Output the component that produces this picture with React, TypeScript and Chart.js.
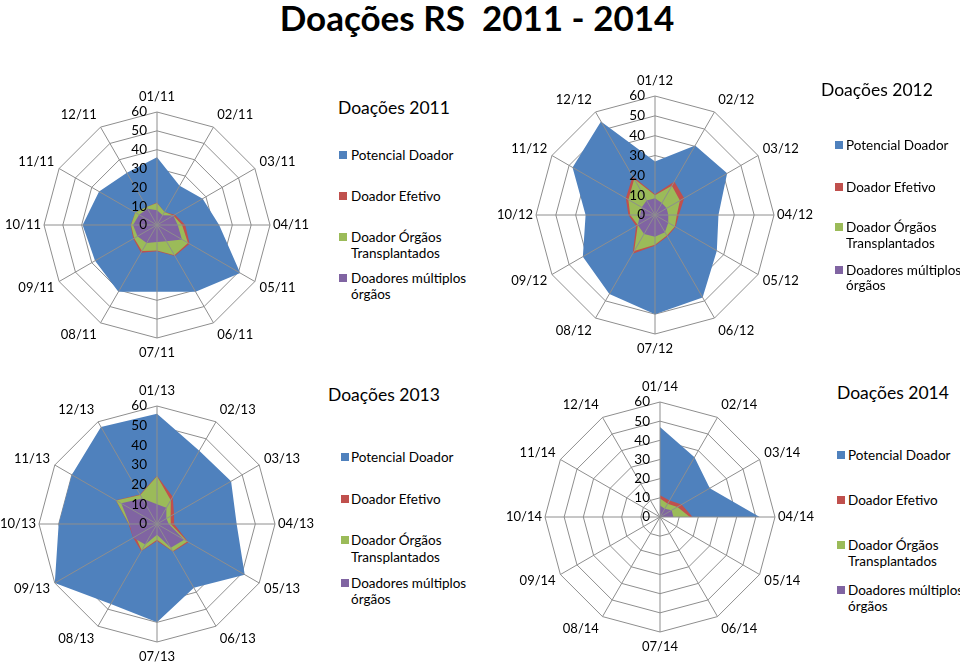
import React, { useEffect, useRef } from 'react';
import { Chart, registerables } from 'chart.js';

Chart.register(...registerables);

const FONT = 'Lato, "Noto Sans", sans-serif';

// ---------- categories ----------
const months2011 = ['01/11', '02/11', '03/11', '04/11', '05/11', '06/11', '07/11', '08/11', '09/11', '10/11', '11/11', '12/11'];
const months2012 = ['01/12', '02/12', '03/12', '04/12', '05/12', '06/12', '07/12', '08/12', '09/12', '10/12', '11/12', '12/12'];
const months2013 = ['01/13', '02/13', '03/13', '04/13', '05/13', '06/13', '07/13', '08/13', '09/13', '10/13', '11/13', '12/13'];
const months2014 = ['01/14', '02/14', '03/14', '04/14', '05/14', '06/14', '07/14', '08/14', '09/14', '10/14', '11/14', '12/14'];

// ---------- series values ----------
const potencial2011 = [36, 24, 28, 33, 51, 41, 35.5, 41, 38, 39.5, 35.5, 32];
const efetivo2011 = [12, 8, 11, 15, 20, 19, 14, 17, 14.5, 14, 13.3, 11];
const transplantados2011 = [11.7, 8, 10, 13.3, 19, 18.5, 13.5, 16, 14, 13.8, 13.3, 11];
const multiplos2011 = [7.8, 6, 10, 11, 15.3, 10, 9, 11, 12, 12.7, 11, 10];

const potencial2012 = [27, 40.5, 42, 32, 36, 48, 50, 46, 42, 35, 48, 54.5];
const efetivo2012 = [10.5, 19.5, 17, 12, 12, 12.5, 15.5, 22.5, 11, 13.4, 17, 22.5];
const transplantados2012 = [10, 17, 14.5, 11, 11.6, 12, 15, 21, 10, 12.5, 15.5, 21];
const multiplos2012 = [8.4, 7, 6.8, 6.7, 7.7, 10, 11, 11, 10, 7.5, 7.7, 8.5];

const potencial2013 = [56, 43, 43.5, 40.5, 51.5, 37.5, 50, 47, 60, 50, 50, 57];
const efetivo2013 = [24.5, 16, 10, 8.7, 18.5, 16.3, 8.7, 16, 14, 14.5, 24.2, 17.3];
const transplantados2013 = [24.3, 14, 8, 7, 17.8, 16, 8, 15.5, 12.6, 14.3, 24, 17];
const multiplos2013 = [10, 9.5, 5.5, 6, 16, 14, 5.5, 12, 14, 14, 21, 15];

const potencial2014 = [47, 36, 30, 52, 0, 0, 0, 0, 0, 0, 0, 0];
const efetivo2014 = [11.3, 10, 13, 17, 0, 0, 0, 0, 0, 0, 0, 0];
const transplantados2014 = [9.6, 8, 10.5, 15.6, 0, 0, 0, 0, 0, 0, 0, 0];
const multiplos2014 = [6, 5, 7, 7, 0, 0, 0, 0, 0, 0, 0, 0];

// ---------- series names / legend / ticks ----------
const seriesNames = ['Potencial Doador', 'Doador Efetivo', 'Doador Órgãos Transplantados', 'Doadores múltiplos órgãos'];
const legendLines = [['Potencial Doador'], ['Doador Efetivo'], ['Doador Órgãos', 'Transplantados'], ['Doadores múltiplos', 'órgãos']];
const seriesColors = ['#4F81BD', '#C0504D', '#9BBB59', '#8064A2'];
const tickValues = [0, 10, 20, 30, 40, 50, 60];
const chartTitle = 'Doações RS  2011 - 2014';

const GRID = '#8e8e8e';
const M = 52;

type RadarProps = { labels: string[]; series: number[][]; cx: number; cy: number; r: number };

function Radar({ labels, series, cx, cy, r }: RadarProps) {
  const ref = useRef<HTMLCanvasElement>(null);
  const S = 2 * (r + M);
  useEffect(() => {
    const overlay = {
      id: 'excelOverlay',
      afterDatasetsDraw(chart: any) {
        const scale = chart.scales.r;
        const ctx = chart.ctx;
        const n = labels.length;
        const outer = scale.getDistanceFromCenterForValue(tickValues[tickValues.length - 1]);
        ctx.save();
        ctx.strokeStyle = GRID;
        ctx.lineWidth = 1;
        for (let i = 0; i < n; i++) {
          const p = scale.getPointPosition(i, outer);
          ctx.beginPath();
          ctx.moveTo(scale.xCenter, scale.yCenter);
          ctx.lineTo(p.x, p.y);
          ctx.stroke();
        }
        ctx.fillStyle = '#000';
        ctx.font = `13.5px ${FONT}`;
        ctx.textAlign = 'right';
        ctx.textBaseline = 'middle';
        tickValues.forEach((v) => {
          const d = scale.getDistanceFromCenterForValue(v);
          ctx.fillText(String(v), scale.xCenter - 10, scale.yCenter - d);
        });
        ctx.font = `13px ${FONT}`;
        const h = 14;
        for (let i = 0; i < n; i++) {
          const ang = scale.getIndexAngle(i);
          const s = Math.sin(ang);
          const c = Math.cos(ang);
          const pad = 3 + 5 * Math.abs(c);
          const p = scale.getPointPosition(i, outer + pad);
          ctx.textAlign = Math.abs(s) < 0.01 ? 'center' : s > 0 ? 'left' : 'right';
          ctx.fillText(labels[i], p.x, p.y - (c * h) / 2);
        }
        ctx.restore();
      },
    };
    const chart = new Chart(ref.current as HTMLCanvasElement, {
      type: 'radar',
      data: {
        labels,
        datasets: series.map((d, k) => ({
          label: seriesNames[k],
          data: d,
          backgroundColor: seriesColors[k],
          borderColor: seriesColors[k],
          borderWidth: 0,
          pointRadius: 0,
          fill: true,
          order: series.length - k,
        })),
      },
      options: {
        animation: false,
        responsive: false,
        maintainAspectRatio: false,
        layout: { padding: M },
        plugins: { legend: { display: false }, tooltip: { enabled: false } },
        elements: { line: { tension: 0 } },
        scales: {
          r: {
            min: 0,
            max: 60,
            ticks: { display: false, stepSize: 10 },
            pointLabels: { display: false },
            grid: { color: GRID, lineWidth: 1 },
            angleLines: { display: false },
          },
        },
      } as any,
      plugins: [overlay],
    });
    return () => chart.destroy();
  }, []);
  return (
    <canvas
      ref={ref}
      width={S}
      height={S}
      style={{ position: 'absolute', left: cx - r - M, top: cy - r - M, width: S, height: S }}
    />
  );
}

type LegendProps = { title: string; titleX: number; titleY: number; boxX: number; textX: number; ys: number[][] };

function Legend({ title, titleX, titleY, boxX, textX, ys }: LegendProps) {
  const lh = 16;
  return (
    <>
      <div style={{ position: 'absolute', left: titleX, top: titleY - 11, height: 22, lineHeight: '22px', fontSize: 17.5, fontFamily: FONT, color: '#000', whiteSpace: 'nowrap' }}>
        {title}
      </div>
      {legendLines.map((lines, k) => (
        <React.Fragment key={k}>
          <div style={{ position: 'absolute', left: boxX, top: ys[k][0] - 4, width: 8, height: 8, background: seriesColors[k] }} />
          {lines.map((t, j) => (
            <div key={j} style={{ position: 'absolute', left: textX, top: ys[k][j] - lh / 2, height: lh, lineHeight: lh + 'px', fontSize: 13.5, fontFamily: FONT, color: '#000', whiteSpace: 'nowrap' }}>
              {t}
            </div>
          ))}
        </React.Fragment>
      ))}
    </>
  );
}

export default function App() {
  return (
    <div style={{ position: 'absolute', left: 0, top: 0, width: 960, height: 665, background: '#fff', overflow: 'hidden' }}>
      <div style={{ position: 'absolute', left: 0, top: -2, width: 954, textAlign: 'center', fontFamily: FONT, fontWeight: 700, fontSize: 35, lineHeight: '38px', whiteSpace: 'pre', color: '#000' }}>
        {chartTitle}
      </div>
      <Radar labels={months2011} series={[potencial2011, efetivo2011, transplantados2011, multiplos2011]} cx={157} cy={225} r={113} />
      <Radar labels={months2012} series={[potencial2012, efetivo2012, transplantados2012, multiplos2012]} cx={655} cy={215} r={119} />
      <Radar labels={months2013} series={[potencial2013, efetivo2013, transplantados2013, multiplos2013]} cx={157} cy={524} r={118} />
      <Radar labels={months2014} series={[potencial2014, efetivo2014, transplantados2014, multiplos2014]} cx={660} cy={517} r={115} />
      <Legend title="Doações 2011" titleX={338} titleY={108} boxX={339} textX={351} ys={[[155], [196], [237, 253], [278, 294]]} />
      <Legend title="Doações 2012" titleX={821} titleY={90} boxX={835} textX={846} ys={[[145], [187], [227, 243], [270, 285]]} />
      <Legend title="Doações 2013" titleX={328} titleY={395} boxX={341} textX={351} ys={[[457], [499], [540, 557], [583, 599]]} />
      <Legend title="Doações 2014" titleX={837} titleY={393} boxX={837} textX={848} ys={[[455], [500], [545, 561], [590, 606]]} />
    </div>
  );
}
